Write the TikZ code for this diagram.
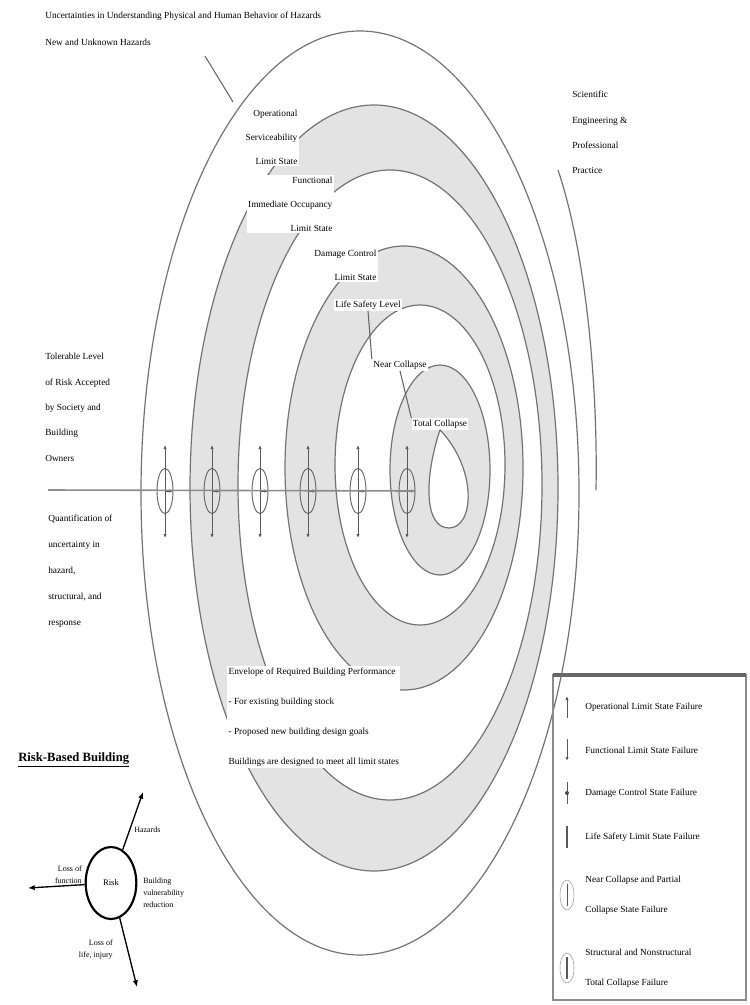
\documentclass[tikz,border=0pt]{standalone}
\usepackage{fontspec}
\setmainfont{Liberation Serif}
\usetikzlibrary{shapes.geometric, arrows.meta, positioning}

\begin{document}
\begin{tikzpicture}[x=0.75pt, y=-0.75pt,
  bound/.style={draw=black!55, line width=0.9pt},
  ringfill/.style={fill=black!11, even odd rule},
  lbl/.style={fill=white, inner sep=1pt, align=right, font=\fontsize{7}{18}\selectfont},
  txt/.style={inner sep=0pt, align=left, anchor=north west, font=\fontsize{7}{19}\selectfont},
  lsmark/.style={ellipse, draw=black!60, line width=0.7pt, minimum width=12pt, minimum height=34pt, inner sep=0pt},
  vtick/.style={draw=black!65, line width=0.7pt, {Latex[length=3pt,width=2.5pt]}-{Latex[length=3pt,width=2.5pt]}},
  link/.style={draw=black!60, line width=0.8pt},
  arr/.style={-{Latex[length=5pt,width=4pt]}, line width=1pt},
  keytxt/.style={anchor=west, align=left, inner sep=0pt, font=\fontsize{7}{17}\selectfont},
  small/.style={inner sep=0pt, font=\fontsize{6}{9}\selectfont}
]
  \useasboundingbox (0,0) rectangle (749,1005);

  % shaded rings
  \fill[ringfill] (374,488) ellipse [x radius=184, y radius=383] (390,485) ellipse [x radius=152, y radius=315];
  \fill[ringfill] (404,468) ellipse [x radius=119, y radius=222] (420,465) ellipse [x radius=85, y radius=160];
  \fill[black!11] (440,470) ellipse [x radius=50, y radius=105];

  % limit state boundaries
  \foreach \cx/\cy/\rx/\ry in {360/493/219/462, 374/488/184/383, 390/485/152/315,
                               404/468/119/222, 420/465/85/160, 440/470/50/105}
    \draw[bound] (\cx,\cy) ellipse [x radius=\rx, y radius=\ry];

  % ring labels
  \node[lbl, anchor=east] (labA) at (299,137) {Operational\\Serviceability\\Limit State};
  \node[lbl, anchor=east] (labB) at (334,204) {Functional\\Immediate Occupancy\\Limit State};
  \node[lbl, anchor=east] (labC) at (378,265) {Damage Control\\Limit State};
  \node[lbl] (labD) at (368,305) {Life Safety Level};
  \node[lbl] (labE) at (400,365) {Near Collapse};
  \node[lbl] (labF) at (440,424) {Total Collapse};
  \draw[link] (labD.south) -- (labE.north west);
  \draw[link] (labE.south) -- (labF.north west);

  % innermost zone
  \filldraw[bound, fill=white] (labF.south) .. controls (478,470) and (474,528) .. (449,528)
    .. controls (424,528) and (424,478) .. (labF.south);

  % outer bracket and texts
  \coordinate (brtop) at (558,170);
  \coordinate (brbot) at (596,490);
  \draw[bound] (brtop) .. controls (585,250) and (598,380) .. (brbot);
  \node[txt] (practice) at (572,91) {Scientific\\Engineering \&\\Professional\\Practice};

  \node[txt, font=\fontsize{7}{20}\selectfont] (gap) at (45,12)
    {Uncertainties in Understanding Physical and Human Behavior of Hazards\\New and Unknown Hazards};
  \coordinate (gapstart) at (205,56);
  \coordinate (gapend) at (233,102);
  \draw[link] (gapstart) -- (gapend);

  \node[txt] (tolerable) at (45,353)
    {Tolerable Level\\of Risk Accepted\\by Society and\\Building\\Owners};
  \node[txt, font=\fontsize{7}{19.5}\selectfont] (quant) at (48,515)
    {Quantification of\\uncertainty in\\hazard,\\structural, and\\response};

  \node[txt, fill=white, inner sep=1pt, font=\fontsize{7}{22.5}\selectfont] (envelope) at (227,666)
    {Envelope of Required Building Performance\\
     - For existing building stock\\
     - Proposed new building design goals\\
     Buildings are designed to meet all limit states};

  % limit state markers on the axis
  \coordinate (axl) at (48,490);
  \foreach \x [count=\i] in {165,212,260,308,358,407} {
    \node[lsmark] (m\i) at (\x,491) {};
    \coordinate (mt\i) at (\x,445);
    \coordinate (mb\i) at (\x,538);
    \draw[vtick] (mt\i) -- (mb\i);
    \draw[draw=black!70, line width=0.7pt, -{Latex[length=3pt,width=2.5pt]}] (m\i.center) -- (m\i.east);
  }
  \draw[draw=black!45, line width=1.2pt] (axl) -- (m6.east);

  % legend
  \draw[draw=black!45, line width=1.3pt] (553,675) rectangle (746,1000);
  \draw[draw=black!60, line width=2.4pt] (553,675) -- (746,675);
  \draw[vtick, {Latex[length=3pt,width=2.5pt]}-] (567,696) -- (567,718);
  \draw[vtick, -{Latex[length=3pt,width=2.5pt]}] (567,739) -- (567,761);
  \draw[vtick, -] (567,782) -- (567,804);
  \fill[black!70] (567,793) circle [radius=2];
  \draw[vtick, -, line width=1.4pt] (567,826) -- (567,848);
  \draw[draw=black!40] (567,895) ellipse [x radius=7, y radius=15];
  \draw[vtick, -] (567,884) -- (567,906);
  \draw[draw=black!40] (567,968) ellipse [x radius=7, y radius=15];
  \draw[vtick, -, line width=1.4pt] (567,957) -- (567,979);
  \node[keytxt] (key1) at (585,707) {Operational Limit State Failure};
  \node[keytxt] (key2) at (585,750) {Functional Limit State Failure};
  \node[keytxt] (key3) at (585,793) {Damage Control State Failure};
  \node[keytxt] (key4) at (585,837) {Life Safety Limit State Failure};
  \node[keytxt, font=\fontsize{7}{22.5}\selectfont] (key5) at (585,895) {Near Collapse and Partial\\Collapse State Failure};
  \node[keytxt, font=\fontsize{7}{22.5}\selectfont] (key6) at (585,968) {Structural and Nonstructural\\Total Collapse Failure};

  % risk-based building inset
  \node[inner sep=0pt, anchor=west, font=\fontsize{9.5}{11}\selectfont\bfseries] (rbtitle) at (18,760) {\underline{Risk-Based Building}};
  \node[ellipse, draw, line width=1.6pt, minimum width=38pt, minimum height=54pt, inner sep=0pt,
        font=\fontsize{6.5}{8}\selectfont] (risk) at (111,883) {Risk};
  \coordinate (rne) at (143,792);
  \coordinate (rw) at (28,888);
  \coordinate (rse) at (137,987);
  \draw[arr] (risk) -- (rne);
  \draw[arr] (risk) -- (rw);
  \draw[arr] (risk) -- (rse);
  \node[small, anchor=west] (hazard) at (134,830) {Hazards};
  \node[small, align=right, anchor=south east] (lossfn) at (82,884) {Loss of\\function};
  \node[small, align=left, anchor=north west] (vuln) at (143,878) {Building\\vulnerability\\reduction};
  \node[small, align=right, anchor=north east] (life) at (113,940) {Loss of\\life, injury};
\end{tikzpicture}
\end{document}
